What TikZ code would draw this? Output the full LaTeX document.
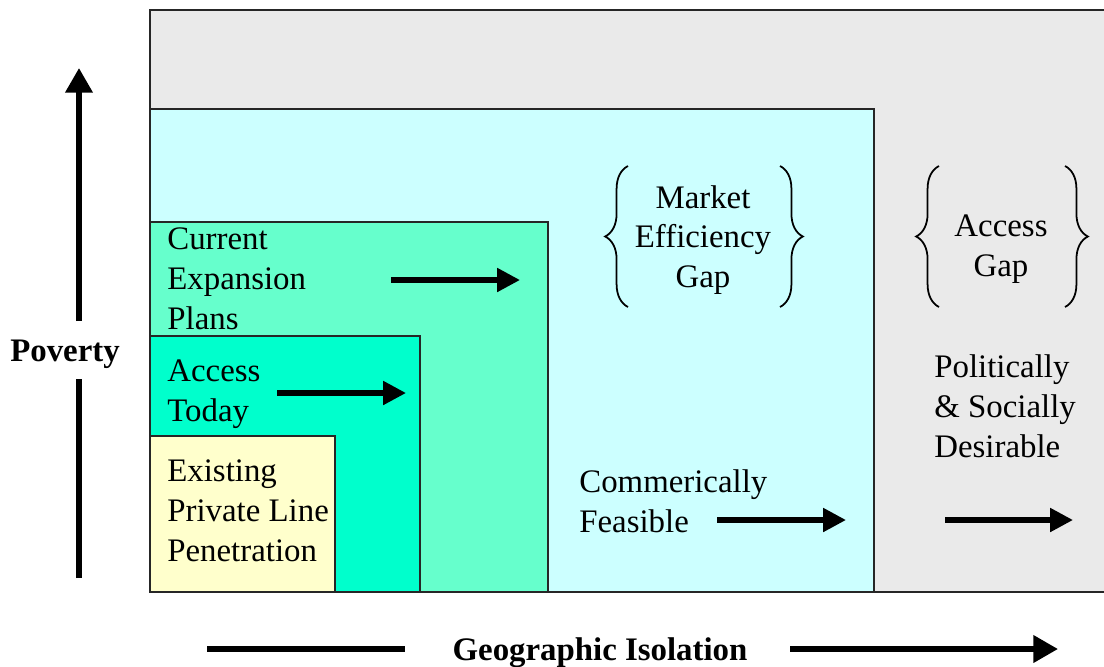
\documentclass[tikz,border=0pt]{standalone}
\usepackage{fontspec}
\setmainfont{Liberation Serif}
\usetikzlibrary{arrows.meta,decorations.pathreplacing}
\definecolor{zonegray}{HTML}{EAEAEA}
\definecolor{zonecyan}{HTML}{CCFFFF}
\definecolor{zonegreen}{HTML}{66FFCC}
\definecolor{zoneteal}{HTML}{00FFCC}
\definecolor{zoneyellow}{HTML}{FFFFCC}

\begin{document}
\begin{tikzpicture}[x=0.02cm,y=-0.02cm]
        % Styles
        \tikzset{
            zone/.style={draw=black!85, line width=1pt},
            label/.style={inner sep=0pt, align=left, anchor=west,
                          font=\fontsize{18.7pt}{22.7pt}\selectfont},
            gap/.style={inner sep=0pt, align=center,
                        font=\fontsize{18.7pt}{22.7pt}\selectfont},
            axis/.style={inner sep=0pt, font=\fontsize{18.7pt}{22.7pt}\selectfont\bfseries},
            push/.style={line width=3pt, -{Triangle[length=13pt,width=13pt]}},
            bigline/.style={line width=3.2pt},
            bigarrow/.style={line width=3.2pt, -{Triangle[length=14pt,width=15pt]}},
            curly/.style={decorate, decoration={brace, amplitude=13pt}, line width=1pt}
        }
        \useasboundingbox (0,0) rectangle (1104,666);

        % Zones
        \fill[zonegray] (150,10) rectangle (1104,592);
        \draw[zone] (1104,10) -- (150,10) -- (150,592) -- (1104,592);
        \draw[zone, fill=zonecyan] (150,109) rectangle (874,592);
        \draw[zone, fill=zonegreen] (150,222) rectangle (548,592);
        \draw[zone, fill=zoneteal] (150,336) rectangle (420,592);
        \draw[zone, fill=zoneyellow] (150,436) rectangle (335,592);

        % Texts
        \node[label] (expansion) at (167,279) {Current\\Expansion\\Plans};
        \node[label] (today) at (167,394) {Access\\Today};
        \node[label] (existing) at (167,511) {Existing\\Private Line\\Penetration};
        \node[label] (feasible) at (579,501) {Commerically\\Feasible};
        \node[label] (desirable) at (934,406) {Politically\\\& Socially\\Desirable};
        \node[gap] (efficiency) at (703,240) {Market\\Efficiency\\Gap};
        \node[gap] (accessgap) at (1001,249) {Access\\Gap};

        % Braces
        \draw[curly] (628,307) -- (628,166);
        \draw[curly] (780,166) -- (780,307);
        \draw[curly] (939,307) -- (939,166);
        \draw[curly] (1065,166) -- (1065,307);

        % Arrows
        \coordinate (exp-a) at (391,280);
        \coordinate (exp-b) at (520,280);
        \coordinate (tod-a) at (277,393);
        \coordinate (tod-b) at (406,393);
        \coordinate (fea-a) at (717,520);
        \coordinate (fea-b) at (846,520);
        \coordinate (des-a) at (945,520);
        \coordinate (des-b) at (1073,520);
        \draw[push] (exp-a) -- (exp-b);
        \draw[push] (tod-a) -- (tod-b);
        \draw[push] (fea-a) -- (fea-b);
        \draw[push] (des-a) -- (des-b);

        % Axes
        \node[axis] (poverty) at (65,354) {Poverty};
        \coordinate (pov-low) at (79,578);
        \coordinate (pov-mid1) at (79,379);
        \coordinate (pov-mid2) at (79,321);
        \coordinate (pov-top) at (79,68);
        \draw[bigline] (pov-low) -- (pov-mid1);
        \draw[bigarrow] (pov-mid2) -- (pov-top);

        \node[axis] (isolation) at (600,653) {Geographic Isolation};
        \coordinate (iso-left) at (207,649);
        \coordinate (iso-mid1) at (405,649);
        \coordinate (iso-mid2) at (790,649);
        \coordinate (iso-right) at (1058,649);
        \draw[bigline] (iso-left) -- (iso-mid1);
        \draw[bigarrow] (iso-mid2) -- (iso-right);
\end{tikzpicture}
\end{document}
